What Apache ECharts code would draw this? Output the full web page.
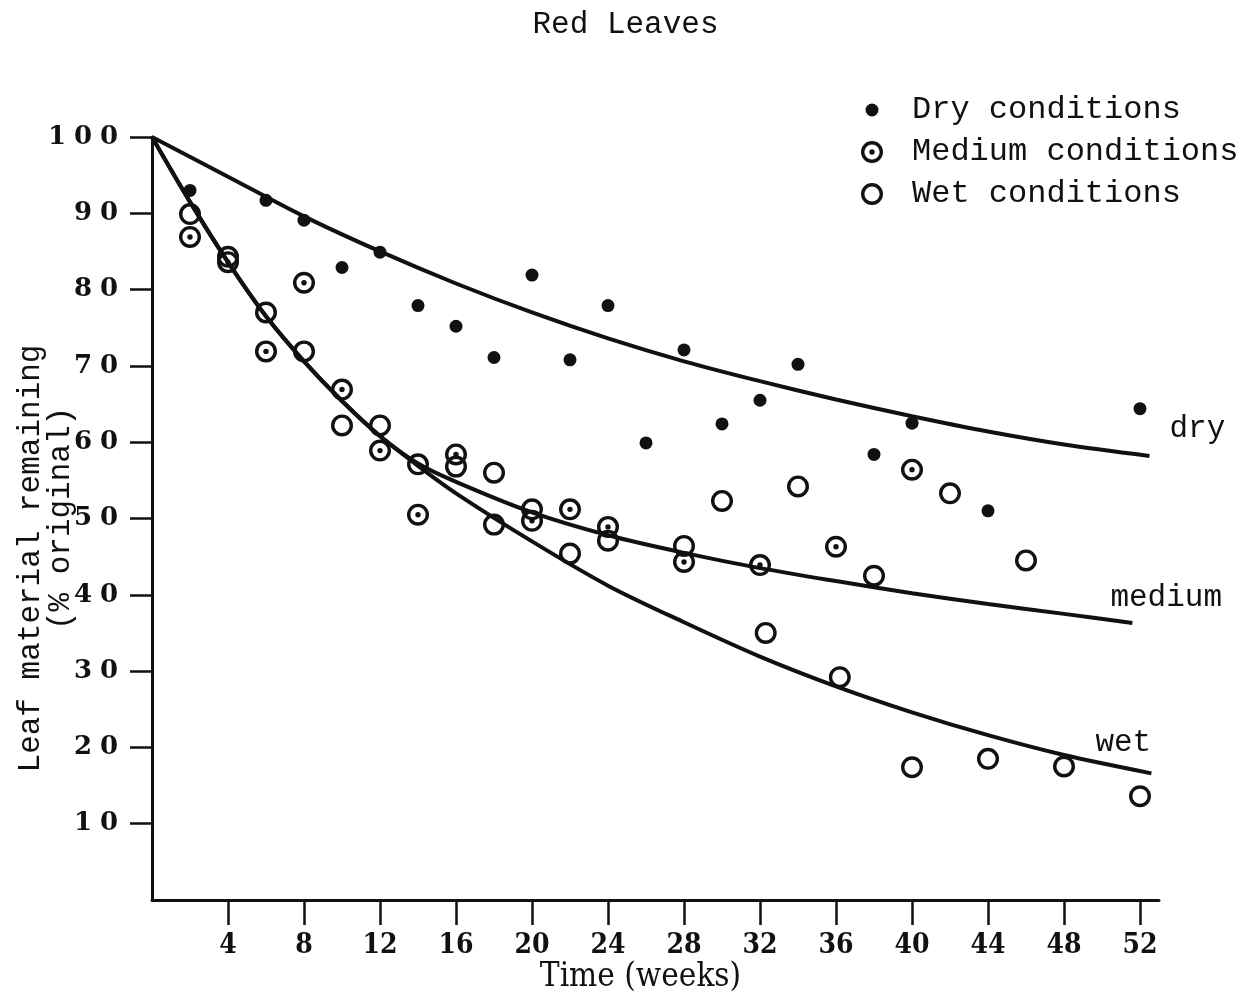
<!DOCTYPE html>
<html>
<head>
<meta charset="utf-8">
<title>Red Leaves</title>
<script src="https://cdn.jsdelivr.net/npm/echarts@6/dist/echarts.min.js"></script>
<style>
    html, body { margin: 0; padding: 0; background: #fff; }
    #main { width: 1251px; height: 995px; }
</style>
</head>
<body>
<div id="main"></div>
<script>
// tick labels
var xTicks = [4, 8, 12, 16, 20, 24, 28, 32, 36, 40, 44, 48, 52];
var yTicks = [10, 20, 30, 40, 50, 60, 70, 80, 90, 100];

// observed points [week, % remaining]
var dryPoints = [
    [2, 93.0], [6, 91.7], [8, 89.1], [10, 82.9], [12, 84.9], [14, 77.9], [16, 75.2],
    [18, 71.1], [20, 81.9], [22, 70.8], [24, 77.9], [26, 59.9], [28, 72.1], [30, 62.4],
    [32, 65.5], [34, 70.2], [38, 58.4], [40, 62.5], [44, 51.0], [52, 64.4]
];
var mediumPoints = [
    [2, 86.9], [4, 83.6], [6, 71.9], [8, 80.9], [10, 66.9], [12, 58.9], [14, 50.5],
    [16, 58.4], [20, 49.7], [22, 51.2], [24, 48.9], [28, 44.3], [32, 43.9], [36, 46.3],
    [40, 56.4]
];
var wetPoints = [
    [2, 89.9], [4, 84.3], [6, 77.0], [8, 71.9], [10, 62.2], [12, 62.2], [14, 57.1],
    [16, 56.8], [18, 56.0], [18, 49.2], [20, 51.2], [22, 45.4], [24, 47.1], [28, 46.4],
    [30, 52.3], [32.3, 35.0], [34, 54.2], [36.2, 29.2], [38, 42.5], [40, 17.4], [42, 53.3],
    [44, 18.5], [46, 44.5], [48, 17.5], [52, 13.6]
];

// fitted curves
var dryCurve = [
    [0, 100], [4, 94.8], [8, 89.6], [12, 85.0], [16, 80.8], [20, 77.0], [24, 73.6],
    [28, 70.6], [32, 68.0], [36, 65.6], [40, 63.4], [44, 61.4], [48, 59.7], [52.5, 58.2]
];
var mediumCurve = [
    [0, 100], [2, 91.5], [4, 83.6], [6, 76.5], [8, 70.6], [10, 65.4], [12, 60.8],
    [14, 57.2], [16, 54.8], [20, 50.8], [24, 47.8], [28, 45.5], [32, 43.5], [36, 41.8],
    [40, 40.2], [44, 38.8], [48, 37.5], [51.6, 36.3]
];
var wetCurve = [
    [0, 100], [2, 91.5], [4, 83.6], [6, 76.5], [8, 70.6], [10, 65.4], [12, 60.8],
    [14, 56.9], [16, 53.3], [20, 47.0], [24, 41.2], [28, 36.4], [32, 31.9], [36, 28.0],
    [40, 24.6], [44, 21.6], [48, 19.0], [52.6, 16.6]
];

var MONO = "'Liberation Mono', 'DejaVu Sans Mono', monospace";
var SERIF = "'DejaVu Serif', 'Liberation Serif', serif";
var COND = "'DejaVu Serif Condensed', 'Liberation Serif', serif";
var INK = '#111';

// symbols: all share a 22x22 box so legend and plot scale alike
var dotSymbol = 'path://M-11,-11 M11,11 M0,-6.5 A6.5,6.5 0 1,1 0,6.5 A6.5,6.5 0 1,1 0,-6.5 Z';
var ringSymbol = 'path://M0,-11 A11,11 0 1,1 0,11 A11,11 0 1,1 0,-11 Z M0,-7.6 A7.6,7.6 0 1,0 0,7.6 A7.6,7.6 0 1,0 0,-7.6 Z';
var ringDotSymbol = ringSymbol + ' M0,-2.7 A2.7,2.7 0 1,1 0,2.7 A2.7,2.7 0 1,1 0,-2.7 Z';

function spacedDigits(v) {
    return String(v).split('').map(function (c) { return '{d|' + c + '}'; }).join('');
}

function curveSeries(name, data, offset) {
    return {
        name: name,
        type: 'line',
        data: data,
        smooth: 0.3,
        symbol: 'none',
        silent: true,
        z: 2,
        lineStyle: { color: INK, width: 4 },
        endLabel: {
            show: true,
            formatter: name,
            color: INK,
            fontFamily: MONO,
            fontSize: 31,
            offset: offset
        }
    };
}

function pointSeries(name, data, symbol) {
    return {
        name: name,
        type: 'scatter',
        data: data,
        symbol: symbol,
        symbolSize: 22,
        z: 3,
        itemStyle: { color: INK, opacity: 1 }
    };
}

var chart = echarts.init(document.getElementById('main'));
chart.setOption({
    backgroundColor: '#fff',
    animation: false,
    title: {
        text: 'Red Leaves',
        left: 'center',
        top: 4,
        textStyle: { fontFamily: MONO, fontSize: 31, fontWeight: 'normal', color: INK }
    },
    legend: {
        orient: 'vertical',
        left: 856,
        top: 89,
        itemWidth: 22,
        itemHeight: 22,
        itemGap: 10,
        textStyle: { fontFamily: MONO, fontSize: 32, color: INK, padding: [0, 0, 0, 24] },
        data: ['Dry conditions', 'Medium conditions', 'Wet conditions']
    },
    grid: { left: 152, right: 92, top: 137, bottom: 95, outerBoundsMode: 'none' },
    xAxis: {
        type: 'value',
        min: 0,
        max: 53,
        name: 'Time (weeks)',
        nameLocation: 'middle',
        nameGap: 61,
        nameMoveOverlap: false,
        nameTextStyle: { fontFamily: COND, fontSize: 33, color: INK, padding: [0, 30, 0, 0] },
        axisLine: { lineStyle: { color: INK, width: 3 } },
        axisTick: { show: true, customValues: xTicks, length: 25, lineStyle: { color: INK, width: 2.5 } },
        axisLabel: {
            customValues: xTicks,
            margin: 32,
            fontFamily: COND,
            fontSize: 28,
            fontWeight: 'bold',
            color: INK
        },
        splitLine: { show: false }
    },
    yAxis: {
        type: 'value',
        min: 0,
        max: 100,
        name: '{a|Leaf material remaining}\n{b|(% original)}',
        nameLocation: 'middle',
        nameGap: 76,
        nameMoveOverlap: false,
        nameTextStyle: {
            fontFamily: MONO,
            fontSize: 31,
            color: INK,
            lineHeight: 30,
            rich: {
                a: { fontFamily: MONO, fontSize: 31, color: INK, lineHeight: 30, padding: [0, 80, 0, 0] },
                b: { fontFamily: MONO, fontSize: 31, color: INK, lineHeight: 30 }
            }
        },
        axisLine: { show: true, lineStyle: { color: INK, width: 3 } },
        axisTick: { show: true, customValues: yTicks, length: 22, lineStyle: { color: INK, width: 2.5 } },
        axisLabel: {
            customValues: yTicks,
            margin: 30,
            formatter: spacedDigits,
            rich: {
                d: { width: 26, align: 'center', fontFamily: SERIF, fontSize: 26, fontWeight: 'bold', color: INK }
            }
        },
        splitLine: { show: false }
    },
    series: [
        curveSeries('dry', dryCurve, [12, -27]),
        curveSeries('medium', mediumCurve, [-30, -25]),
        curveSeries('wet', wetCurve, [-64, -31]),
        pointSeries('Dry conditions', dryPoints, dotSymbol),
        pointSeries('Medium conditions', mediumPoints, ringDotSymbol),
        pointSeries('Wet conditions', wetPoints, ringSymbol)
    ]
});
window.onresize = chart.resize;
</script>
</body>
</html>
